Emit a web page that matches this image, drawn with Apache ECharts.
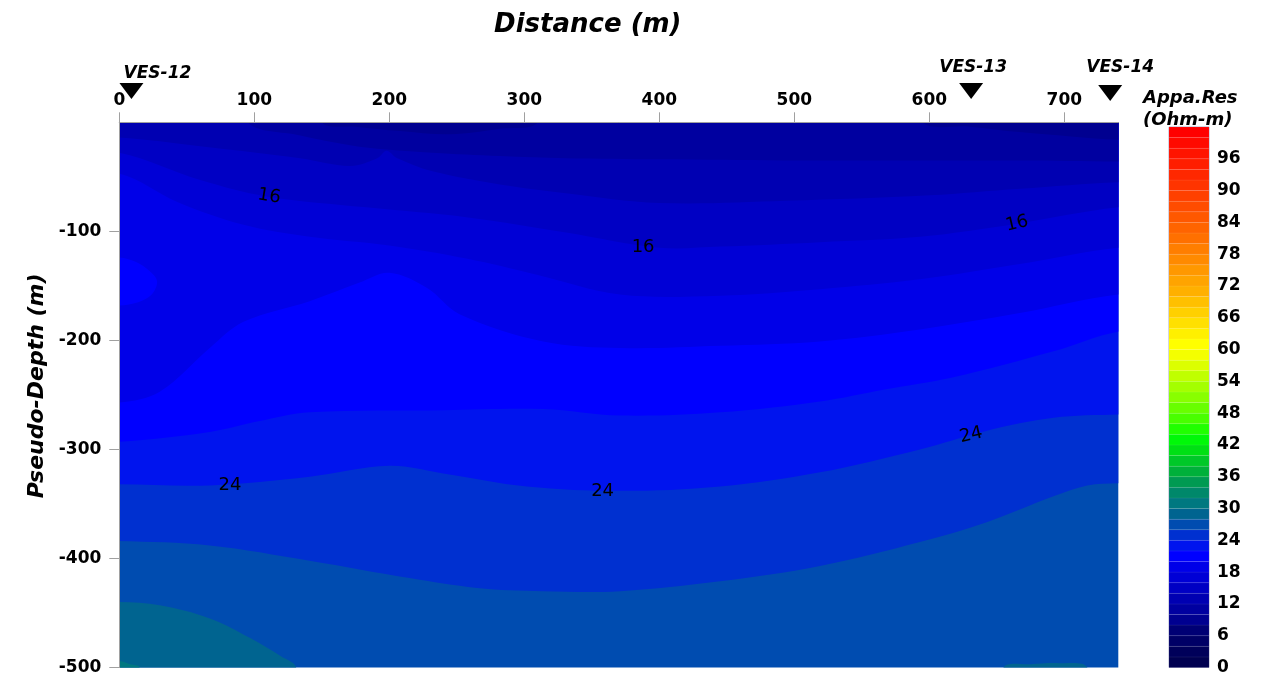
<!DOCTYPE html>
<html><head><meta charset="utf-8">
<script src="https://cdn.jsdelivr.net/npm/echarts@6/dist/echarts.min.js"></script>
<style>html,body{margin:0;padding:0;background:#fff}#c{width:1262px;height:676px}</style>
</head><body><div id="c"></div><script>
// ---------- data ----------
// colour-bar band boundaries (Ohm-m)
const bandLevels = [0,2,4,6,8,10,12,14,16,18,20,22,24,26,28,30,32,34,36,38,40,42,44,46,48,50,
  52,54,56,58,60,62,64,66,68,70,72,74,76,78,80,82,84,86,88,90,92,94,96,98,100,102];
const bandColors = ['#000050','#00005a','#000066','#000074','#000090','#0000a0','#0000b2','#0000c4',
  '#0000d6','#0000e8','#0000ff','#0014ee','#0030d0','#004cb0','#006490','#007880','#00886a','#009a52',
  '#00b03a','#00c828','#00e014','#00f808','#20ff00','#48ff00','#68ff00','#88ff00','#a4ff00','#c0ff00',
  '#dcff00','#f4ff00','#ffff00','#fff000','#ffe000','#ffd000','#ffc000','#ffb000','#ffa400','#ff9800',
  '#ff8a00','#ff7e00','#ff7000','#ff6400','#ff5800','#ff4c00','#ff4000','#ff3400','#ff2800','#ff1e00',
  '#ff1400','#ff0a00','#ff0000'];

// contour lines: [distance (m), pseudo-depth (m)]
const c10a = [[150,0],[175,-4],[208,-8],[245,-11],[282,-6],[310,0]];
const c10b = [[595,0],[630,-4],[667,-9],[705,-13],[740,-16]];
const c12 = [[95,0],[134,-12],[171,-21],[198,-25],[232,-28],[282,-31],[331,-33],[400,-34],[494,-35],[600,-35],[667,-35],[740,-36]];
const c14 = [[0,-14],[60,-22],[134,-33],[171,-40],[191,-33],[198,-26],[206,-33],[232,-45],[282,-57],[331,-65],[400,-74],[494,-72],[600,-67],[667,-61],[740,-55]];
const c16 = [[0,-28],[60,-53],[109,-68],[183,-78],[257,-87],[331,-101],[400,-115],[445,-114],[519,-110],[593,-105],[665,-93],[740,-78]];
const c18 = [[0,-47],[43,-73],[92,-94],[141,-105],[200,-113],[257,-125],[310,-140],[371,-158],[445,-159],[519,-153],[593,-144],[667,-130],[740,-115]];
const c20 = [[0,-257],[30,-247],[67,-207],[92,-183],[141,-164],[178,-147],[200,-138],[228,-152],[252,-176],[314,-201],[371,-207],[445,-205],[519,-201],[593,-190],[667,-175],[740,-158]];
const c20bulge = [[0,-124],[12,-128],[23,-137],[28,-146],[24,-158],[14,-165],[0,-168]];
const c22 = [[0,-293],[67,-284],[104,-274],[141,-266],[240,-264],[314,-263],[371,-269],[445,-266],[519,-256],[567,-245],[617,-234],[692,-210],[740,-192]];
const c24 = [[0,-332],[67,-333],[141,-325],[200,-315],[240,-322],[302,-334],[371,-338],[445,-334],[519,-321],[593,-300],[642,-283],[692,-271],[740,-268]];
const c26 = [[0,-384],[67,-388],[141,-402],[215,-418],[265,-427],[314,-430],[371,-430],[445,-421],[519,-407],[593,-385],[642,-367],[692,-343],[717,-333],[740,-331]];
const c28a = [[0,-440],[30,-443],[67,-455],[97,-473],[120,-490],[131,-500]];
const c28b = [[655,-500],[675,-497],[697,-496],[717,-500]];
const c30 = [[0,-494],[8,-497],[15,-500]];

// contour labels
const labelText  = ['16','16','16','24','24','24'];
const labelDist  = [111, 388, 665, 82, 358, 631];
const labelDepth = [-68, -115, -93, -333, -338, -287];

// VES stations
const vesNames = ['VES-12','VES-13','VES-14'];
const vesDist  = [9, 631, 734];

// ---------- axes ranges ----------
const X_MIN = 0, X_MAX = 740, Y_MIN = -500, Y_MAX = 0;

// drawing table: region beyond each contour, deep to shallow
const layers = [
  {pts: c26, level: 26, side: 'up'},
  {pts: c24, level: 24, side: 'up'},
  {pts: c22, level: 22, side: 'up'},
  {pts: c20, level: 20, side: 'up'},
  {pts: c18, level: 18, side: 'up'},
  {pts: c16, level: 16, side: 'up'},
  {pts: c14, level: 14, side: 'up'},
  {pts: c12, level: 12, side: 'up'},
  {pts: c10a, level: 10, side: 'up'},
  {pts: c10b, level: 10, side: 'up'},
  {pts: c20bulge, level: 20, side: 'closed'},
  {pts: c28a, level: 28, side: 'down'},
  {pts: c28b, level: 28, side: 'down'},
  {pts: c30, level: 30, side: 'down'}
];
function bandIndexOf(level, side) {
  return side === 'up' ? bandLevels.indexOf(level) - 1 : bandLevels.indexOf(level);
}

const FONT = 'DejaVu Sans';
const GRAY = '#a0a0a0';

function renderContour(params, api) {
  const L = layers[params.dataIndex];
  const pts = L.pts;
  const first = pts[0], last = pts[pts.length - 1];
  const padX = 40, padY = 40;
  let full;
  if (L.side === 'closed') {
    full = [[X_MIN - padX, first[1]]].concat(pts, [[X_MIN - padX, last[1]]]);
  } else {
    const yEdge = L.side === 'up' ? Y_MAX + padY : Y_MIN - padY;
    const pre = [], post = [];
    if (first[0] <= X_MIN) { pre.push([X_MIN - padX, yEdge]); pre.push([X_MIN - padX, first[1]]); }
    else pre.push([first[0], yEdge]);
    if (last[0] >= X_MAX) { post.push([X_MAX + padX, last[1]]); post.push([X_MAX + padX, yEdge]); }
    else post.push([last[0], yEdge]);
    full = pre.concat(pts, post);
  }
  const cs = params.coordSys;
  return {
    type: 'polygon',
    shape: {points: full.map(p => api.coord(p)), smooth: 0.35},
    style: {fill: bandColors[bandIndexOf(L.level, L.side)], stroke: null},
    clipPath: {type: 'rect', shape: {x: cs.x, y: cs.y, width: cs.width, height: cs.height}}
  };
}

function renderBand(params, api) {
  const i = params.dataIndex;
  const p1 = api.coord([0, bandLevels[i + 1]]);
  const p2 = api.coord([1, bandLevels[i]]);
  return {
    type: 'rect',
    shape: {x: p1[0], y: p1[1], width: p2[0] - p1[0], height: p2[1] - p1[1]},
    style: {fill: bandColors[i], stroke: 'rgba(255,255,255,0.06)', lineWidth: 1}
  };
}

const labelRot = [-9, 0, 13, 0, 0, 13];
const vesLabelOffset = [[26, 1], [2, -5], [10, -7]];
const vesSymOffset = [[0, 0], [0, 0], [0, 2]];

const boldTxt = {fontFamily: FONT, fontWeight: 'bold', fontSize: 17, color: '#000'};
const cbTitleStyle = {fontFamily: FONT, fontSize: 18, fontWeight: 'bold', fontStyle: 'italic', color: '#000'};

const option = {
  animation: false,
  backgroundColor: '#ffffff',
  title: [
    {text: 'Appa.Res', left: 1143, top: 89, padding: 0, textStyle: cbTitleStyle},
    {text: '(Ohm-m)', left: 1143, top: 111, padding: 0, textStyle: cbTitleStyle}
  ],
  grid: [
    {left: 119.3, top: 122.3, width: 999, height: 547, show: true, borderWidth: 0, backgroundColor: bandColors[13]},
    {left: 1169, top: 127, width: 40, height: 541, show: true, borderColor: '#a8a8c8', borderWidth: 1, backgroundColor: 'transparent'},
    {left: 119.3, top: 66, width: 999, height: 50}
  ],
  xAxis: [
    {gridIndex: 0, type: 'value', position: 'top', min: X_MIN, max: X_MAX, interval: 100, z: 5,
     name: 'Distance (m)', nameLocation: 'middle', nameGap: 84,
     nameTextStyle: {fontFamily: FONT, fontSize: 26, fontWeight: 'bold', fontStyle: 'italic', color: '#000', padding: [0, 62, 0, 0]},
     axisLine: {show: true, lineStyle: {color: GRAY, width: 1}},
     axisTick: {show: true, length: 10, lineStyle: {color: GRAY}},
     axisLabel: Object.assign({margin: 13, showMaxLabel: false}, boldTxt),
     splitLine: {show: false}},
    {gridIndex: 0, type: 'value', position: 'bottom', min: X_MIN, max: X_MAX, z: 5,
     axisLine: {show: true, lineStyle: {color: GRAY, width: 1}},
     axisTick: {show: false}, axisLabel: {show: false}, splitLine: {show: false}},
    {gridIndex: 1, type: 'value', min: 0, max: 1, show: false},
    {gridIndex: 2, type: 'value', min: X_MIN, max: X_MAX, show: false}
  ],
  yAxis: [
    {gridIndex: 0, type: 'value', min: Y_MIN, max: Y_MAX, interval: 100, z: 5,
     name: 'Pseudo-Depth (m)', nameLocation: 'middle', nameGap: 70, nameRotate: 90,
     nameTextStyle: {fontFamily: FONT, fontSize: 22, fontWeight: 'bold', fontStyle: 'italic', color: '#000', padding: [0, 0, 0, 18]},
     axisLine: {show: true, lineStyle: {color: GRAY, width: 1}},
     axisTick: {show: true, length: 10, lineStyle: {color: GRAY}},
     axisLabel: Object.assign({margin: 18, showMaxLabel: false}, boldTxt),
     splitLine: {show: false}},
    {gridIndex: 0, type: 'value', position: 'right', min: Y_MIN, max: Y_MAX, z: 5,
     axisLine: {show: true, lineStyle: {color: GRAY, width: 1}},
     axisTick: {show: false}, axisLabel: {show: false}, splitLine: {show: false}},
    {gridIndex: 1, type: 'value', position: 'right', min: bandLevels[0], max: bandLevels[bandLevels.length - 1], interval: 6,
     axisLine: {show: false}, axisTick: {show: false}, splitLine: {show: false},
     axisLabel: Object.assign({margin: 8, showMaxLabel: false}, boldTxt)},
    {gridIndex: 2, type: 'value', min: 0, max: 1, show: false}
  ],
  series: [
    {type: 'custom', xAxisIndex: 0, yAxisIndex: 0, z: 2, silent: true,
     renderItem: renderContour, data: layers.map((l, i) => [i])},
    {type: 'scatter', xAxisIndex: 0, yAxisIndex: 0, z: 4, silent: true,
     symbolSize: 1, itemStyle: {color: 'rgba(0,0,0,0)', opacity: 1},
     data: labelText.map((t, i) => ({
       value: [labelDist[i], labelDepth[i]], name: t,
       label: {rotate: labelRot[i]}
     })),
     label: {show: true, position: 'inside', formatter: '{b}',
       fontFamily: FONT, fontSize: 18, color: '#000'}},
    {type: 'custom', xAxisIndex: 2, yAxisIndex: 2, z: 2, silent: true,
     renderItem: renderBand, data: bandColors.map((c, i) => [i])},
    {type: 'scatter', xAxisIndex: 3, yAxisIndex: 3, silent: true,
     symbol: 'triangle', symbolRotate: 180, symbolSize: [24, 16],
     itemStyle: {color: '#000000', opacity: 1},
     data: vesNames.map((n, i) => ({
       value: [vesDist[i], 0.5], name: n,
       symbolOffset: vesSymOffset[i],
       label: {offset: vesLabelOffset[i]}
     })),
     label: {show: true, position: 'top', distance: 2, formatter: '{b}', opacity: 1,
       fontFamily: FONT, fontSize: 17, fontWeight: 'bold', fontStyle: 'italic', color: '#000000'}}
  ]
};

const chart = echarts.init(document.getElementById('c'), null, {renderer: 'canvas'});
chart.setOption(option);
</script></body></html>
